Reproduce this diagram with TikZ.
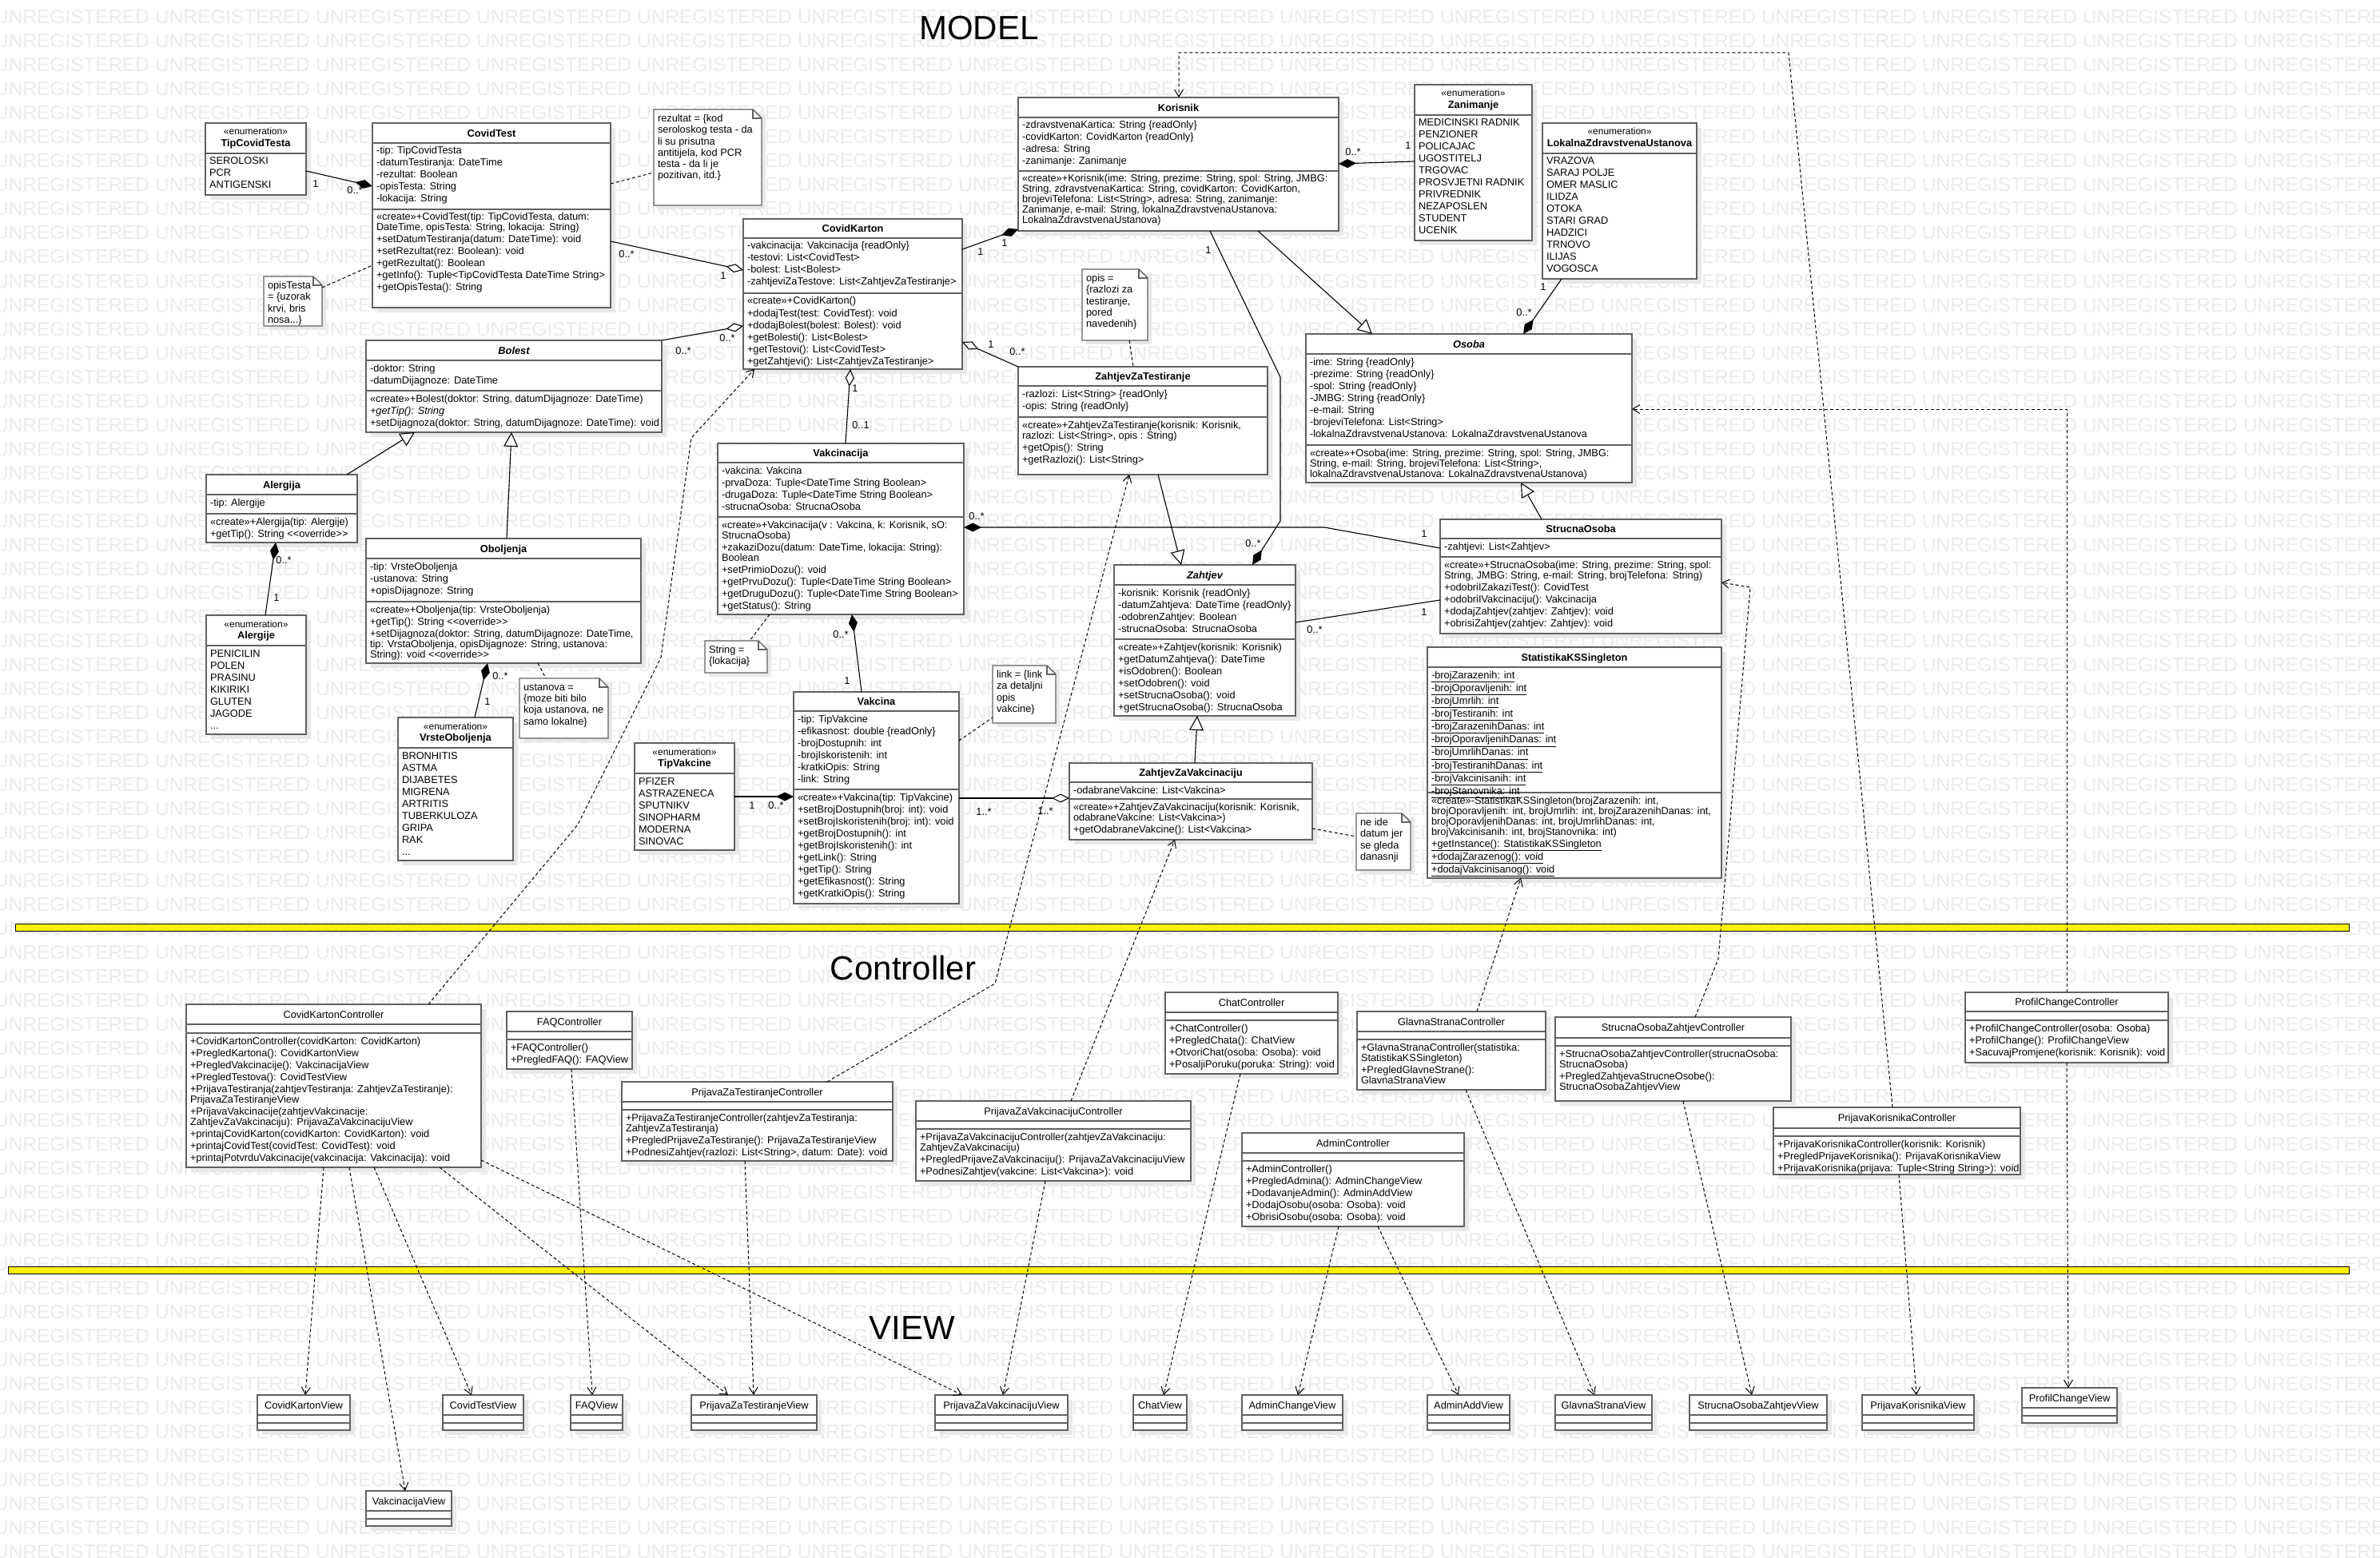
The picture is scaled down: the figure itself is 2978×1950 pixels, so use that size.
\documentclass[tikz,border=0pt]{standalone}
\usepackage{fontspec}
\setmainfont{Liberation Sans}
\usetikzlibrary{arrows.meta,calc}
\newcommand\umlfont{\fontsize{12.8}{15}\selectfont}
\newcommand\enumfont{\fontsize{12}{15}\selectfont}
\newcommand\notefont{\fontsize{12.8}{13}\selectfont}
\newcommand\uL[1]{\hbox{\strut #1}}
\newcommand\uW[1]{\vskip-2pt\hbox{\strut #1}}
\newcommand\ovr{<\kern0pt<override>\kern0pt>}
\newcommand\wmword{\makebox[201pt][l]{UNREGISTERED}}
\newcommand\wmrow{\wmword\wmword\wmword\wmword\wmword\wmword\wmword\wmword\wmword\wmword\wmword\wmword\wmword\wmword\wmword}
\tikzset{
  boxst/.style={draw=black!62, line width=1.6pt, fill=white, inner sep=0pt, outer sep=0pt},
  shadowst/.style={fill=black!9, draw=none},
  sepst/.style={draw=black!62, line width=1.6pt},
  notest/.style={draw=black!62, line width=1.4pt, fill=white},
  txt/.style={inner sep=0pt, outer sep=0pt, font=\umlfont},
  lbl/.style={inner sep=0pt, outer sep=0pt, font=\umlfont},
  wm/.style={inner sep=0pt, anchor=base west, font=\fontsize{24.4}{26}\selectfont, text=black!8},
  ttl/.style={inner sep=0pt, anchor=base, font=\fontsize{42}{46}\selectfont},
  con/.style={draw=black, line width=1.1pt},
  comp/.style={con, {Diamond[length=22pt,width=11pt]}-},
  aggr/.style={con, {Diamond[length=22pt,width=11pt,fill=white]}-},
  gen/.style={con, -{Triangle[length=18pt,width=18pt,fill=white]}},
  dep/.style={con, line width=1pt, dash pattern=on 4pt off 3pt, -{Straight Barb[length=9pt,width=11pt]}},
  noteln/.style={con, line width=1pt, dash pattern=on 4pt off 3pt},
}
\newcommand\umlbox[5]{%
  \fill[shadowst] (#2+6,#3+6) rectangle (#4+6,#5+6);
  \node[boxst, anchor=north west, minimum width=#4pt-#2pt, minimum height=#5pt-#3pt] (#1) at (#2,#3) {};}
\newcommand\umlsep[2]{\draw[sepst] (#1.west |- 0,#2) -- (#1.east |- 0,#2);}
\newcommand\umlhead[4][\bfseries]{%
  \node[txt, font=\umlfont#1, anchor=base, yshift=-4.6pt] (#2-h) at ($(#2.north)!0.5!(#2.north |- 0,#3)$) {#4};}
\newcommand\umlenum[2]{%
  \node[txt, font=\enumfont, anchor=base, yshift=-15pt] (#1-s) at (#1.north) {«enumeration»};
  \node[txt, font=\umlfont\bfseries, anchor=base, yshift=-29.5pt] (#1-h) at (#1.north) {#2};}
\newcommand\umlcomp[4]{%
  \node[txt, anchor=north west, xshift=5pt, yshift=-3.5pt] (#2-#1) at (#2.west |- 0,#3) {\vtop{#4}};}
\newcommand\umlnote[6]{%
  \fill[shadowst] (#2+5,#3+5) rectangle (#4+5,#5+5);
  \node[inner sep=0pt, outer sep=0pt, minimum width=#4pt-#2pt, minimum height=#5pt-#3pt, anchor=north west] (#1) at (#2,#3) {};
  \filldraw[notest] (#1.north west) -- ([xshift=-11pt]#1.north east) -- ([yshift=-11pt]#1.north east) -- (#1.south east) -- (#1.south west) -- cycle;
  \draw[notest, fill=none] ([xshift=-11pt]#1.north east) |- ([yshift=-11pt]#1.north east);
  \node[txt, font=\notefont, anchor=north west, xshift=5pt, yshift=-6.5pt] (#1-t) at (#1.north west) {\vtop{#6}};}
\newcommand\umlview[5]{%
  \umlbox{#1}{#2}{#3}{#4}{#3+44}
  \umlsep{#1}{#3+25}\umlsep{#1}{#3+35}
  \umlhead[]{#1}{#3+25}{#5}}
\begin{document}
\begin{tikzpicture}[x=1pt,y=-1pt]
\useasboundingbox (0,0) rectangle (2978,1950);
\clip (0,0) rectangle (2978,1950);
% watermark
\foreach \r in {1,...,65} { \node[wm] (wm\r) at (-7,30*\r) {\wmrow}; }
% titles and separators
\node[ttl] (tmodel) at (1225,50) {MODEL};
\node[ttl] (tctrl) at (1130,1226) {Controller};
\node[ttl] (tview) at (1141,1676) {VIEW};
\draw[fill=yellow, draw=black, line width=1pt] (19,1156) rectangle (2939,1165);
\draw[fill=yellow, draw=black, line width=1pt] (10,1585) rectangle (2939,1594);

% ================= MODEL =================
\umlbox{tct}{257}{154}{383}{244}
\umlsep{tct}{192}
\umlenum{tct}{TipCovidTesta}
\umlcomp{a}{tct}{192}{\uL{SEROLOSKI}\uL{PCR}\uL{ANTIGENSKI}}

\umlbox{ct}{466}{154}{764}{385}
\umlsep{ct}{179}\umlsep{ct}{262}
\umlhead{ct}{179}{CovidTest}
\umlcomp{a}{ct}{179}{\uL{-tip: TipCovidTesta}\uL{-datumTestiranja: DateTime}\uL{-rezultat: Boolean}\uL{-opisTesta: String}\uL{-lokacija: String}}
\umlcomp{m}{ct}{262}{\uL{«create»+CovidTest(tip: TipCovidTesta, datum:}\uW{DateTime, opisTesta: String, lokacija: String)}\uL{+setDatumTestiranja(datum: DateTime): void}\uL{+setRezultat(rez: Boolean): void}\uL{+getRezultat(): Boolean}\uL{+getInfo(): Tuple<TipCovidTesta DateTime String>}\uL{+getOpisTesta(): String}}

\umlnote{n1}{818}{137}{953}{257}{\uL{rezultat = \{kod}\uL{seroloskog testa - da}\uL{li su prisutna}\uL{antitijela, kod PCR}\uL{testa - da li je}\uL{pozitivan, itd.\}}}
\umlnote{n2}{330}{346}{403}{408}{\uL{opisTesta}\uL{= \{uzorak}\uL{krvi, bris}\uL{nosa...\}}}

\umlbox{ck}{930}{274}{1204}{462}
\umlsep{ck}{298}\umlsep{ck}{367}
\umlhead{ck}{298}{CovidKarton}
\umlcomp{a}{ck}{298}{\uL{-vakcinacija: Vakcinacija \{readOnly\}}\uL{-testovi: List<CovidTest>}\uL{-bolest: List<Bolest>}\uL{-zahtjeviZaTestove: List<ZahtjevZaTestiranje>}}
\umlcomp{m}{ck}{367}{\uL{«create»+CovidKarton()}\uL{+dodajTest(test: CovidTest): void}\uL{+dodajBolest(bolest: Bolest): void}\uL{+getBolesti(): List<Bolest>}\uL{+getTestovi(): List<CovidTest>}\uL{+getZahtjevi(): List<ZahtjevZaTestiranje>}}

\umlbox{kor}{1274}{122}{1675}{289}
\umlsep{kor}{147}\umlsep{kor}{214}
\umlhead{kor}{147}{Korisnik}
\umlcomp{a}{kor}{147}{\uL{-zdravstvenaKartica: String \{readOnly\}}\uL{-covidKarton: CovidKarton \{readOnly\}}\uL{-adresa: String}\uL{-zanimanje: Zanimanje}}
\umlcomp{m}{kor}{214}{\uL{«create»+Korisnik(ime: String, prezime: String, spol: String, JMBG:}\uW{String, zdravstvenaKartica: String, covidKarton: CovidKarton,}\uW{brojeviTelefona: List<String>, adresa: String, zanimanje:}\uW{Zanimanje, e-mail: String, lokalnaZdravstvenaUstanova:}\uW{LokalnaZdravstvenaUstanova)}}

\umlbox{zan}{1770}{106}{1917}{301}
\umlsep{zan}{144}
\umlenum{zan}{Zanimanje}
\umlcomp{a}{zan}{144}{\uL{MEDICINSKI RADNIK}\uL{PENZIONER}\uL{POLICAJAC}\uL{UGOSTITELJ}\uL{TRGOVAC}\uL{PROSVJETNI RADNIK}\uL{PRIVREDNIK}\uL{NEZAPOSLEN}\uL{STUDENT}\uL{UCENIK}}

\umlbox{lok}{1930}{154}{2123}{349}
\umlsep{lok}{192}
\umlenum{lok}{LokalnaZdravstvenaUstanova}
\umlcomp{a}{lok}{192}{\uL{VRAZOVA}\uL{SARAJ POLJE}\uL{OMER MASLIC}\uL{ILIDZA}\uL{OTOKA}\uL{STARI GRAD}\uL{HADZICI}\uL{TRNOVO}\uL{ILIJAS}\uL{VOGOSCA}}

\umlbox{oso}{1634}{418}{2042}{604}
\umlsep{oso}{443}\umlsep{oso}{557}
\umlhead[\bfseries\itshape]{oso}{443}{Osoba}
\umlcomp{a}{oso}{443}{\uL{-ime: String \{readOnly\}}\uL{-prezime: String \{readOnly\}}\uL{-spol: String \{readOnly\}}\uL{-JMBG: String \{readOnly\}}\uL{-e-mail: String}\uL{-brojeviTelefona: List<String>}\uL{-lokalnaZdravstvenaUstanova: LokalnaZdravstvenaUstanova}}
\umlcomp{m}{oso}{557}{\uL{«create»+Osoba(ime: String, prezime: String, spol: String, JMBG:}\uW{String, e-mail: String, brojeviTelefona: List<String>,}\uW{lokalnaZdravstvenaUstanova: LokalnaZdravstvenaUstanova)}}

\umlbox{bol}{458}{426}{828}{541}
\umlsep{bol}{451}\umlsep{bol}{489}
\umlhead[\bfseries\itshape]{bol}{451}{Bolest}
\umlcomp{a}{bol}{451}{\uL{-doktor: String}\uL{-datumDijagnoze: DateTime}}
\umlcomp{m}{bol}{489}{\uL{«create»+Bolest(doktor: String, datumDijagnoze: DateTime)}\uL{\itshape +getTip(): String}\uL{+setDijagnoza(doktor: String, datumDijagnoze: DateTime): void}}

\umlbox{ale}{258}{594}{447}{679}
\umlsep{ale}{619}\umlsep{ale}{643}
\umlhead{ale}{619}{Alergija}
\umlcomp{a}{ale}{619}{\uL{-tip: Alergije}}
\umlcomp{m}{ale}{643}{\uL{«create»+Alergija(tip: Alergije)}\uL{+getTip(): String \ovr}}

\umlbox{alg}{258}{770}{383}{919}
\umlsep{alg}{808}
\umlenum{alg}{Alergije}
\umlcomp{a}{alg}{808}{\uL{PENICILIN}\uL{POLEN}\uL{PRASINU}\uL{KIKIRIKI}\uL{GLUTEN}\uL{JAGODE}\uL{...}}

\umlbox{obo}{458}{674}{802}{830}
\umlsep{obo}{699}\umlsep{obo}{753}
\umlhead{obo}{699}{Oboljenja}
\umlcomp{a}{obo}{699}{\uL{-tip: VrsteOboljenja}\uL{-ustanova: String}\uL{+opisDijagnoze: String}}
\umlcomp{m}{obo}{753}{\uL{«create»+Oboljenja(tip: VrsteOboljenja)}\uL{+getTip(): String \ovr}\uL{+setDijagnoza(doktor: String, datumDijagnoze: DateTime,}\uW{tip: VrstaOboljenja, opisDijagnoze: String, ustanova:}\uW{String): void \ovr}}

\umlbox{vo}{498}{898}{642}{1077}
\umlsep{vo}{936}
\umlenum{vo}{VrsteOboljenja}
\umlcomp{a}{vo}{936}{\uL{BRONHITIS}\uL{ASTMA}\uL{DIJABETES}\uL{MIGRENA}\uL{ARTRITIS}\uL{TUBERKULOZA}\uL{GRIPA}\uL{RAK}\uL{...}}

\umlnote{n7}{650}{849}{761}{924}{\uL{ustanova =}\uL{\{moze biti bilo}\uL{koja ustanova, ne}\uL{samo lokalne\}}}

\umlbox{vak}{898}{555}{1206}{769}
\umlsep{vak}{579}\umlsep{vak}{647}
\umlhead{vak}{579}{Vakcinacija}
\umlcomp{a}{vak}{579}{\uL{-vakcina: Vakcina}\uL{-prvaDoza: Tuple<DateTime String Boolean>}\uL{-drugaDoza: Tuple<DateTime String Boolean>}\uL{-strucnaOsoba: StrucnaOsoba}}
\umlcomp{m}{vak}{647}{\uL{«create»+Vakcinacija(v : Vakcina, k: Korisnik, sO:}\uW{StrucnaOsoba)}\uL{+zakaziDozu(datum: DateTime, lokacija: String):}\uW{Boolean}\uL{+setPrimioDozu(): void}\uL{+getPrvuDozu(): Tuple<DateTime String Boolean>}\uL{+getDruguDozu(): Tuple<DateTime String Boolean>}\uL{+getStatus(): String}}

\umlnote{n4}{882}{802}{960}{842}{\uL{String =}\uL{\{lokacija\}}}

\umlbox{vac}{993}{866}{1200}{1131}
\umlsep{vac}{890}\umlsep{vac}{988}
\umlhead{vac}{890}{Vakcina}
\umlcomp{a}{vac}{890}{\uL{-tip: TipVakcine}\uL{-efikasnost: double \{readOnly\}}\uL{-brojDostupnih: int}\uL{-brojIskoristenih: int}\uL{-kratkiOpis: String}\uL{-link: String}}
\umlcomp{m}{vac}{988}{\uL{«create»+Vakcina(tip: TipVakcine)}\uL{+setBrojDostupnih(broj: int): void}\uL{+setBrojIskoristenih(broj: int): void}\uL{+getBrojDostupnih(): int}\uL{+getBrojIskoristenih(): int}\uL{+getLink(): String}\uL{+getTip(): String}\uL{+getEfikasnost(): String}\uL{+getKratkiOpis(): String}}

\umlbox{tv}{794}{930}{919}{1064}
\umlsep{tv}{968}
\umlenum{tv}{TipVakcine}
\umlcomp{a}{tv}{968}{\uL{PFIZER}\uL{ASTRAZENECA}\uL{SPUTNIKV}\uL{SINOPHARM}\uL{MODERNA}\uL{SINOVAC}}

\umlnote{n5}{1242}{833}{1321}{905}{\uL{link = \{link}\uL{za detaljni}\uL{opis}\uL{vakcine\}}}

\umlbox{zzt}{1274}{459}{1586}{594}
\umlsep{zzt}{483}\umlsep{zzt}{522}
\umlhead{zzt}{483}{ZahtjevZaTestiranje}
\umlcomp{a}{zzt}{483}{\uL{-razlozi: List<String> \{readOnly\}}\uL{-opis: String \{readOnly\}}}
\umlcomp{m}{zzt}{522}{\uL{«create»+ZahtjevZaTestiranje(korisnik: Korisnik,}\uW{razlozi: List<String>, opis : String)}\uL{+getOpis(): String}\uL{+getRazlozi(): List<String>}}

\umlnote{n3}{1354}{337}{1436}{426}{\uL{opis =}\uL{\{razlozi za}\uL{testiranje,}\uL{pored}\uL{navedenih\}}}

\umlbox{zah}{1394}{707}{1621}{896}
\umlsep{zah}{732}\umlsep{zah}{800}
\umlhead[\bfseries\itshape]{zah}{732}{Zahtjev}
\umlcomp{a}{zah}{732}{\uL{-korisnik: Korisnik \{readOnly\}}\uL{-datumZahtjeva: DateTime \{readOnly\}}\uL{-odobrenZahtjev: Boolean}\uL{-strucnaOsoba: StrucnaOsoba}}
\umlcomp{m}{zah}{800}{\uL{«create»+Zahtjev(korisnik: Korisnik)}\uL{+getDatumZahtjeva(): DateTime}\uL{+isOdobren(): Boolean}\uL{+setOdobren(): void}\uL{+setStrucnaOsoba(): void}\uL{+getStrucnaOsoba(): StrucnaOsoba}}

\umlbox{zzv}{1338}{955}{1642}{1051}
\umlsep{zzv}{979}\umlsep{zzv}{1000}
\umlhead{zzv}{979}{ZahtjevZaVakcinaciju}
\umlcomp{a}{zzv}{979}{\uL{-odabraneVakcine: List<Vakcina>}}
\umlcomp{m}{zzv}{1000}{\uL{«create»+ZahtjevZaVakcinaciju(korisnik: Korisnik,}\uW{odabraneVakcine: List<Vakcina>)}\uL{+getOdabraneVakcine(): List<Vakcina>}}

\umlnote{n6}{1697}{1018}{1765}{1089}{\uL{ne ide}\uL{datum jer}\uL{se gleda}\uL{danasnji}}

\umlbox{so}{1802}{650}{2154}{793}
\umlsep{so}{674}\umlsep{so}{697}
\umlhead{so}{674}{StrucnaOsoba}
\umlcomp{a}{so}{674}{\uL{-zahtjevi: List<Zahtjev>}}
\umlcomp{m}{so}{697}{\uL{«create»+StrucnaOsoba(ime: String, prezime: String, spol:}\uW{String, JMBG: String, e-mail: String, brojTelefona: String)}\uL{+odobriIZakaziTest(): CovidTest}\uL{+odobriIVakcinaciju(): Vakcinacija}\uL{+dodajZahtjev(zahtjev: Zahtjev): void}\uL{+obrisiZahtjev(zahtjev: Zahtjev): void}}

\umlbox{stat}{1786}{810}{2154}{1099}
\umlsep{stat}{835}\umlsep{stat}{992}
\umlhead{stat}{835}{StatistikaKSSingleton}
\umlcomp{a}{stat}{835}{\uL{\underline{-brojZarazenih: int}}\uL{\underline{-brojOporavljenih: int}}\uL{\underline{-brojUmrlih: int}}\uL{\underline{-brojTestiranih: int}}\uL{\underline{-brojZarazenihDanas: int}}\uL{\underline{-brojOporavljenihDanas: int}}\uL{\underline{-brojUmrlihDanas: int}}\uL{\underline{-brojTestiranihDanas: int}}\uL{\underline{-brojVakcinisanih: int}}\uL{\underline{-brojStanovnika: int}}}
\umlcomp{m}{stat}{992}{\uL{«create»-StatistikaKSSingleton(brojZarazenih: int,}\uW{brojOporavljenih: int, brojUmrlih: int, brojZarazenihDanas: int,}\uW{brojOporavljenihDanas: int, brojUmrlihDanas: int,}\uW{brojVakcinisanih: int, brojStanovnika: int)}\uL{\underline{+getInstance(): StatistikaKSSingleton}}\uL{\underline{+dodajZarazenog(): void}}\uL{\underline{+dodajVakcinisanog(): void}}}

% ================= CONTROLLERS =================
\umlbox{ckc}{233}{1257}{602}{1461}
\umlsep{ckc}{1282}\umlsep{ckc}{1293}
\umlhead[]{ckc}{1282}{CovidKartonController}
\umlcomp{m}{ckc}{1293}{\uL{+CovidKartonController(covidKarton: CovidKarton)}\uL{+PregledKartona(): CovidKartonView}\uL{+PregledVakcinacije(): VakcinacijaView}\uL{+PregledTestova(): CovidTestView}\uL{+PrijavaTestiranja(zahtjevTestiranja: ZahtjevZaTestiranje):}\uW{PrijavaZaTestiranjeView}\uL{+PrijavaVakcinacije(zahtjevVakcinacije:}\uW{ZahtjevZaVakcinaciju): PrijavaZaVakcinacijuView}\uL{+printajCovidKarton(covidKarton: CovidKarton): void}\uL{+printajCovidTest(covidTest: CovidTest): void}\uL{+printajPotvrduVakcinacije(vakcinacija: Vakcinacija): void}}

\umlbox{faqc}{634}{1266}{791}{1338}
\umlsep{faqc}{1291}\umlsep{faqc}{1301}
\umlhead[]{faqc}{1291}{FAQController}
\umlcomp{m}{faqc}{1301}{\uL{+FAQController()}\uL{+PregledFAQ(): FAQView}}

\umlbox{pztc}{778}{1354}{1117}{1453}
\umlsep{pztc}{1379}\umlsep{pztc}{1389}
\umlhead[]{pztc}{1379}{PrijavaZaTestiranjeController}
\umlcomp{m}{pztc}{1389}{\uL{+PrijavaZaTestiranjeController(zahtjevZaTestiranja:}\uW{ZahtjevZaTestiranja)}\uL{+PregledPrijaveZaTestiranje(): PrijavaZaTestiranjeView}\uL{+PodnesiZahtjev(razlozi: List<String>, datum: Date): void}}

\umlbox{pzvc}{1146}{1378}{1490}{1478}
\umlsep{pzvc}{1403}\umlsep{pzvc}{1413}
\umlhead[]{pzvc}{1403}{PrijavaZaVakcinacijuController}
\umlcomp{m}{pzvc}{1413}{\uL{+PrijavaZaVakcinacijuController(zahtjevZaVakcinaciju:}\uW{ZahtjevZaVakcinaciju)}\uL{+PregledPrijaveZaVakcinaciju(): PrijavaZaVakcinacijuView}\uL{+PodnesiZahtjev(vakcine: List<Vakcina>): void}}

\umlbox{chc}{1458}{1242}{1674}{1344}
\umlsep{chc}{1267}\umlsep{chc}{1277}
\umlhead[]{chc}{1267}{ChatController}
\umlcomp{m}{chc}{1277}{\uL{+ChatController()}\uL{+PregledChata(): ChatView}\uL{+OtvoriChat(osoba: Osoba): void}\uL{+PosaljiPoruku(poruka: String): void}}

\umlbox{gsc}{1698}{1266}{1934}{1364}
\umlsep{gsc}{1291}\umlsep{gsc}{1301}
\umlhead[]{gsc}{1291}{GlavnaStranaController}
\umlcomp{m}{gsc}{1301}{\uL{+GlavnaStranaController(statistika:}\uW{StatistikaKSSingleton)}\uL{+PregledGlavneStrane():}\uW{GlavnaStranaView}}

\umlbox{adc}{1554}{1418}{1832}{1535}
\umlsep{adc}{1443}\umlsep{adc}{1453}
\umlhead[]{adc}{1443}{AdminController}
\umlcomp{m}{adc}{1453}{\uL{+AdminController()}\uL{+PregledAdmina(): AdminChangeView}\uL{+DodavanjeAdmin(): AdminAddView}\uL{+DodajOsobu(osoba: Osoba): void}\uL{+ObrisiOsobu(osoba: Osoba): void}}

\umlbox{sozc}{1946}{1273}{2241}{1378}
\umlsep{sozc}{1299}\umlsep{sozc}{1309}
\umlhead[]{sozc}{1299}{StrucnaOsobaZahtjevController}
\umlcomp{m}{sozc}{1309}{\uL{+StrucnaOsobaZahtjevController(strucnaOsoba:}\uW{StrucnaOsoba)}\uL{+PregledZahtjevaStrucneOsobe():}\uW{StrucnaOsobaZahtjevView}}

\umlbox{pkc}{2219}{1386}{2528}{1470}
\umlsep{pkc}{1412}\umlsep{pkc}{1422}
\umlhead[]{pkc}{1412}{PrijavaKorisnikaController}
\umlcomp{m}{pkc}{1422}{\uL{+PrijavaKorisnikaController(korisnik: Korisnik)}\uL{+PregledPrijaveKorisnika(): PrijavaKorisnikaView}\uL{+PrijavaKorisnika(prijava: Tuple<String String>): void}}

\umlbox{pcc}{2459}{1242}{2713}{1330}
\umlsep{pcc}{1266}\umlsep{pcc}{1277}
\umlhead[]{pcc}{1266}{ProfilChangeController}
\umlcomp{m}{pcc}{1277}{\uL{+ProfilChangeController(osoba: Osoba)}\uL{+ProfilChange(): ProfilChangeView}\uL{+SacuvajPromjene(korisnik: Korisnik): void}}

% ================= VIEWS =================
\umlview{vCK}{322}{1746}{438}{CovidKartonView}
\umlview{vCT}{554}{1746}{655}{CovidTestView}
\umlview{vFAQ}{714}{1746}{779}{FAQView}
\umlview{vPZT}{865}{1746}{1022}{PrijavaZaTestiranjeView}
\umlview{vPZV}{1170}{1746}{1336}{PrijavaZaVakcinacijuView}
\umlview{vCh}{1418}{1746}{1485}{ChatView}
\umlview{vACh}{1554}{1746}{1680}{AdminChangeView}
\umlview{vAA}{1786}{1746}{1889}{AdminAddView}
\umlview{vGS}{1946}{1746}{2067}{GlavnaStranaView}
\umlview{vSOZ}{2114}{1746}{2286}{StrucnaOsobaZahtjevView}
\umlview{vPK}{2330}{1746}{2470}{PrijavaKorisnikaView}
\umlview{vPC}{2530}{1737}{2649}{ProfilChangeView}
\umlview{vVak}{458}{1866}{565}{VakcinacijaView}

% ================= CONNECTORS (model) =================
\draw[comp] (ct.west |- 0,233) -- (tct.east |- 0,214);
\draw[aggr] (ck.west |- 0,338) -- (ct.east |- 0,302);
\draw[aggr] (ck.west |- 0,408) -- (bol.north east);
\draw[noteln] (ct.east |- 0,230) -- (n1.west |- 0,216);
\draw[noteln] (n2.east |- 0,360) -- (ct.west |- 0,332);
\draw[comp] (kor.west |- 0,287) -- (ck.east |- 0,312);
\draw[comp] (kor.east |- 0,205) -- (zan.west |- 0,202);
\draw[gen] (kor.south -| 1574,0) -- (oso.north -| 1717,0);
\draw[comp] (zah.north -| 1567,0) -- (1602,652) -- (1602,472) -- (kor.south -| 1514,0);
\draw[comp] (oso.north -| 1906,0) -- (lok.south -| 1954,0);
\draw[aggr] (ck.east |- 0,428) -- (zzt.north west);
\draw[noteln] (n3.south -| 1413,0) -- (zzt.north -| 1418,0);
\draw[gen] (zzt.south -| 1449,0) -- (zah.north -| 1478,0);
\draw[gen] (zzv.north -| 1495,0) -- (zah.south -| 1498,0);
\draw[aggr] (ck.south -| 1064,0) -- (vak.north -| 1058,0);
\draw[comp] (vak.east |- 0,660) -- (1657,660) -- (so.west |- 0,686);
\draw[con] (zah.east |- 0,779) -- (so.west |- 0,751);
\draw[gen] (so.north -| 1929,0) -- (oso.south -| 1903,0);
\draw[comp] (vak.south -| 1066,0) -- (vac.north -| 1078,0);
\draw[noteln] (vak.south -| 963,0) -- (n4.north -| 938,0);
\draw[comp] (vac.west |- 0,997) -- (tv.east |- 0,997);
\draw[aggr] (zzv.west |- 0,999) -- (vac.east |- 0,999);
\draw[noteln] (vac.east |- 0,927) -- (n5.west |- 0,898);
\draw[noteln] (zzv.east |- 0,1037) -- (n6.west |- 0,1047);
\draw[gen] (ale.north -| 434,0) -- (bol.south -| 519,0);
\draw[gen] (obo.north -| 634,0) -- (bol.south -| 640,0);
\draw[comp] (ale.south -| 345,0) -- (alg.north -| 332,0);
\draw[comp] (obo.south -| 610,0) -- (vo.north -| 594,0);
\draw[noteln] (obo.south -| 673,0) -- (n7.north -| 683,0);

% multiplicities
\node[lbl] (m1) at (395,230) {1};
\node[lbl] (m2) at (444,238) {0..*};
\node[lbl] (m3) at (784,318) {0..*};
\node[lbl] (m4) at (905,345) {1};
\node[lbl] (m5) at (910,423) {0..*};
\node[lbl] (m6) at (855,439) {0..*};
\node[lbl] (m7) at (1227,315) {1};
\node[lbl] (m8) at (1257,304) {1};
\node[lbl] (m9) at (1693,190) {0..*};
\node[lbl] (m10) at (1762,182) {1};
\node[lbl] (m11) at (1512,313) {1};
\node[lbl] (m12) at (1568,680) {0..*};
\node[lbl] (m13) at (1931,359) {1};
\node[lbl] (m14) at (1907,391) {0..*};
\node[lbl] (m15) at (1240,431) {1};
\node[lbl] (m16) at (1273,440) {0..*};
\node[lbl] (m17) at (1070,486) {1};
\node[lbl] (m18) at (1077,532) {0..1};
\node[lbl] (m19) at (1222,646) {0..*};
\node[lbl] (m20) at (1782,668) {1};
\node[lbl] (m21) at (1645,788) {0..*};
\node[lbl] (m22) at (1782,766) {1};
\node[lbl] (m23) at (1052,794) {0..*};
\node[lbl] (m24) at (1060,852) {1};
\node[lbl] (m25) at (941,1008) {1};
\node[lbl] (m26) at (971,1008) {0..*};
\node[lbl] (m27) at (1231,1016) {1..*};
\node[lbl] (m28) at (1308,1015) {1..*};
\node[lbl] (m29) at (355,701) {0..*};
\node[lbl] (m30) at (346,748) {1};
\node[lbl] (m31) at (626,846) {0..*};
\node[lbl] (m32) at (610,878) {1};

% ================= DEPENDENCIES =================
\draw[dep] (ckc.north -| 536,0) -- (723,1032) -- (827,823) -- (865,548) -- (ck.south -| 944,0);
\draw[dep] (pztc.north -| 1035,0) -- (1245,1231) -- (zzt.south -| 1413,0);
\draw[dep] (pzvc.north -| 1340,0) -- (zzv.south -| 1470,0);
\draw[dep] (gsc.north -| 1848,0) -- (stat.south -| 1903,0);
\draw[dep] (sozc.north -| 2121,0) -- (2150,1200) -- (2190,735) -- (so.east |- 0,729);
\draw[dep] (pkc.north -| 2368,0) -- (2238,66) -- (1475,66) -- (kor.north -| 1475,0);
\draw[dep] (pcc.north -| 2586,0) -- (2586,512) -- (oso.east |- 0,512);
\draw[dep] (ckc.south -| 405,0) -- (vCK.north -| 382,0);
\draw[dep] (ckc.south -| 437,0) -- (vVak.north -| 507,0);
\draw[dep] (ckc.south -| 468,0) -- (vCT.north -| 590,0);
\draw[dep] (ckc.south -| 550,0) -- (vPZT.north -| 911,0);
\draw[dep] (ckc.east |- 0,1452) -- (vPZV.north -| 1204,0);
\draw[dep] (faqc.south -| 715,0) -- (vFAQ.north -| 741,0);
\draw[dep] (pztc.south -| 932,0) -- (vPZT.north -| 943,0);
\draw[dep] (pzvc.south -| 1308,0) -- (vPZV.north -| 1255,0);
\draw[dep] (chc.south -| 1552,0) -- (vCh.north -| 1456,0);
\draw[dep] (adc.south -| 1675,0) -- (vACh.north -| 1624,0);
\draw[dep] (adc.south -| 1724,0) -- (vAA.north -| 1825,0);
\draw[dep] (gsc.south -| 1834,0) -- (vGS.north -| 1995,0);
\draw[dep] (sozc.south -| 2106,0) -- (vSOZ.north -| 2192,0);
\draw[dep] (pkc.south -| 2376,0) -- (vPK.north -| 2398,0);
\draw[dep] (pcc.south -| 2586,0) -- (vPC.north -| 2588,0);
\end{tikzpicture}
\end{document}
